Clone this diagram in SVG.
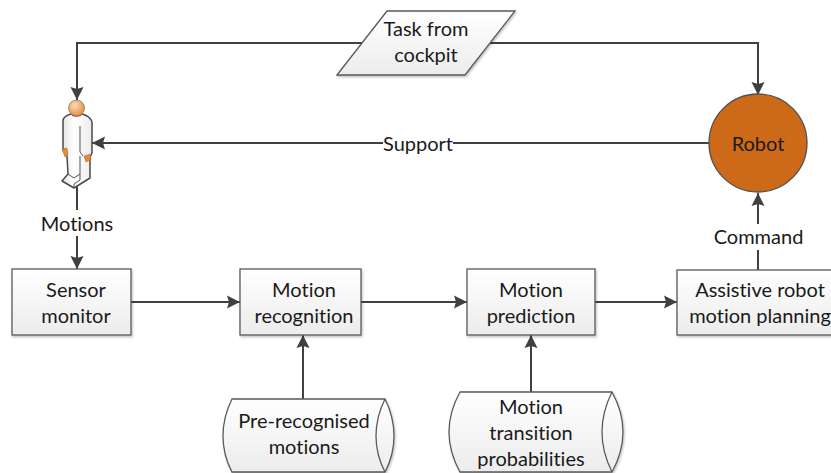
<svg xmlns="http://www.w3.org/2000/svg" width="831" height="473" viewBox="0 0 831 473">
<defs>
<linearGradient id="g" x1="0" y1="0" x2="0" y2="1"><stop offset="0" stop-color="#ffffff"/><stop offset="1" stop-color="#ececec"/></linearGradient>
<linearGradient id="b" x1="0" y1="0" x2="1" y2="0"><stop offset="0" stop-color="#e4e4e4"/><stop offset="0.4" stop-color="#ffffff"/><stop offset="1" stop-color="#ececec"/></linearGradient>
<radialGradient id="skin" cx="0.4" cy="0.35" r="0.7"><stop offset="0" stop-color="#fbdcb8"/><stop offset="1" stop-color="#e08a3c"/></radialGradient>
<filter id="s" x="-5%" y="-5%" width="110%" height="115%"><feDropShadow dx="1" dy="1.500" stdDeviation="1" flood-color="#000" flood-opacity="0.250"/></filter>
<marker id="a" markerUnits="userSpaceOnUse" markerWidth="14" markerHeight="14" refX="13" refY="7" orient="auto"><path d="M0 0.500L13 7L0 13.500L2 7Z" fill="#404040"/></marker>
</defs>
<style>
text{font-family:"Lato","Carlito","Open Sans",sans-serif;font-size:20px;fill:#1a1a1a;text-anchor:middle;font-variant-ligatures:none}
.n{fill:url(#g);stroke:#5a5a5a;stroke-width:1.300;filter:url(#s)}
.c{fill:none;stroke:#404040;stroke-width:2;marker-end:url(#a)}
.l{fill:none;stroke:#404040;stroke-width:2}
.i{fill:none;stroke:#5a5a5a;stroke-width:1.300}
</style>
<g id="connectors">
<path class="c" d="M362 43H77V100"/>
<path class="c" d="M490 43H758V95"/>
<path class="l" d="M709 143H453"/>
<path class="c" d="M383 143H92"/>
<path class="l" d="M77 187V210"/>
<path class="c" d="M77 236V269"/>
<path class="c" d="M131 302H240"/>
<path class="c" d="M361 302H467"/>
<path class="c" d="M595 302H677"/>
<path class="c" d="M758 224V193"/>
<path class="l" d="M758 250V270"/>
<path class="c" d="M303 399V335"/>
<path class="c" d="M531 392V335"/>
</g>
<g id="task"><path class="n" d="M337 75L387 11H515L465 75Z"/><text x="426" y="36">Task from</text><text x="426" y="62">cockpit</text></g>
<g id="person">
<path d="M63 120Q64 116 71 114L82 114Q90 116 92 122L92 153L90 157L90 178L74 188L62 181L68 174L67 156L63 150Z" fill="url(#b)" stroke="#4a4a4a" stroke-width="1.500" stroke-linejoin="round"/>
<path d="M80 126V152L83 156M80 156V180L74 184V188M68 174L74 178L80 174" fill="none" stroke="#555" stroke-width="1"/>
<path d="M62 149L67 148L68 155L65 157Z" fill="#e08a3c" stroke="#a86420" stroke-width="0.500"/>
<path d="M84 156L91 154L90 160L86 162Z" fill="#e08a3c" stroke="#a86420" stroke-width="0.500"/>
<circle cx="76.500" cy="108" r="8" fill="url(#skin)" stroke="#8a6a50" stroke-width="0.700"/>
<path d="M72 115.500Q76 117 81 115.500" fill="none" stroke="#d04030" stroke-width="1.200"/>
</g>
<g id="robot"><circle cx="758" cy="143" r="49" fill="#cd6a19" stroke="#505050" stroke-width="1.300"/><text x="758" y="151">Robot</text></g>
<g id="support-label"><text x="418" y="151">Support</text></g>
<g id="motions-label"><text x="77" y="231">Motions</text></g>
<g id="command-label"><text x="758.500" y="244">Command</text></g>
<g id="sensor"><rect class="n" x="12" y="269" width="119" height="66"/><text x="76" y="297">Sensor</text><text x="76" y="323">monitor</text></g>
<g id="recognition"><rect class="n" x="240" y="269" width="121" height="66"/><text x="304" y="297">Motion</text><text x="304" y="323">recognition</text></g>
<g id="prediction"><rect class="n" x="467" y="269" width="128" height="66"/><text x="531" y="297">Motion</text><text x="531" y="323">prediction</text></g>
<g id="planning"><rect class="n" x="677" y="270" width="160" height="65"/><text x="760" y="297">Assistive robot</text><text x="760" y="323">motion planning</text></g>
<g id="prerecognised"><path class="n" d="M232 399H385Q394 417 394 436Q394 455 385 472H232Q223 455 223 436Q223 417 232 399Z"/><path class="i" d="M385 399Q376 417 376 436Q376 455 385 472"/><text x="304" y="428">Pre-recognised</text><text x="304" y="454">motions</text></g>
<g id="transition"><path class="n" d="M460 392H612Q623 412 623 432Q623 452 612 472H460Q449 452 449 432Q449 412 460 392Z"/><path class="i" d="M612 392Q602 412 602 432Q602 452 612 472"/><text x="531" y="414">Motion</text><text x="531" y="440">transition</text><text x="531" y="466">probabilities</text></g>
</svg>
